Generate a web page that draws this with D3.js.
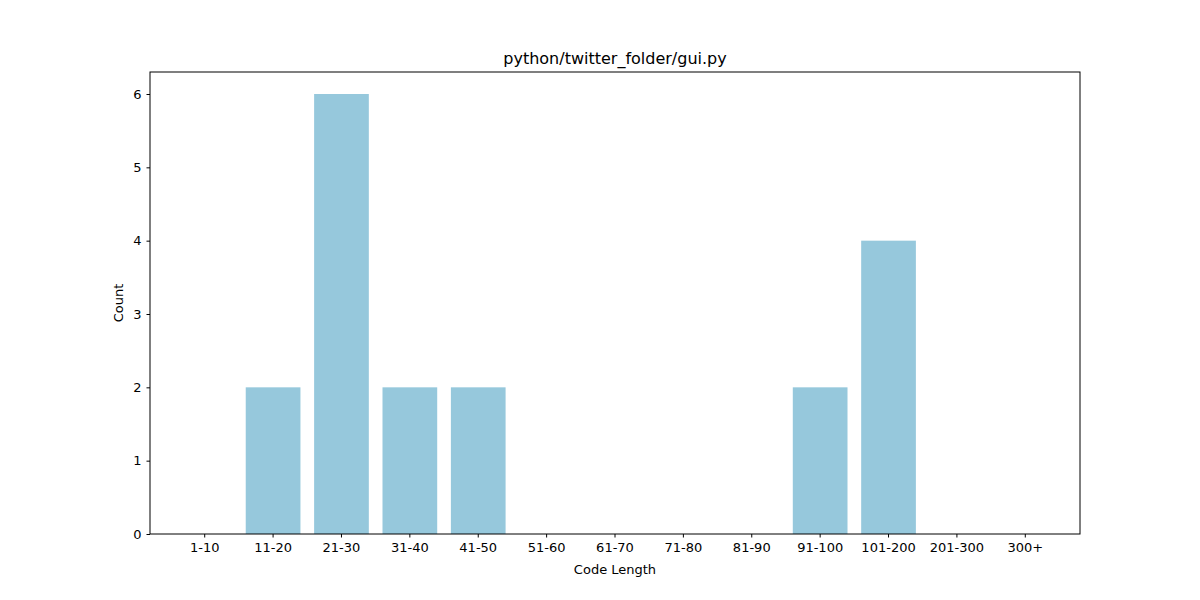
<!DOCTYPE html>
<html><head><meta charset="utf-8">
<script src="https://cdn.jsdelivr.net/npm/d3@7"></script>
<style>body{margin:0;background:#fff}text{font-family:"DejaVu Sans",sans-serif}</style>
</head><body>
<svg id="c" width="1200" height="600"></svg>
<script>
const categories = ["1-10","11-20","21-30","31-40","41-50","51-60","61-70","71-80","81-90","91-100","101-200","201-300","300+"];
const counts = [0,2,6,2,2,0,0,0,0,2,4,0,0];
const yTicks = [0,1,2,3,4,5,6];
const title = "python/twitter_folder/gui.py";

const svg = d3.select("#c");
const L=150,R=1080,T=72,B=534;
const x = d3.scaleBand().domain(categories).range([L,R]).paddingInner(0.2).paddingOuter(0.4);
const y = d3.scaleLinear().domain([0,6.3]).range([B,T]);

svg.selectAll("rect.bar").data(counts).enter().append("rect")
  .attr("x",(d,i)=>x(categories[i])).attr("width",x.bandwidth())
  .attr("y",d=>y(d)).attr("height",d=>B-y(d)).attr("fill","#96c8dc");

const xa = svg.append("g").attr("transform",`translate(0,${B})`)
  .call(d3.axisBottom(x).tickSize(3.5).tickPadding(5).tickSizeOuter(0));
const ya = svg.append("g").attr("transform",`translate(${L},0)`)
  .call(d3.axisLeft(y).tickValues(yTicks).tickFormat(d3.format("d")).tickSize(3.5).tickPadding(5).tickSizeOuter(0));
[xa,ya].forEach(a=>{a.select(".domain").remove();a.selectAll("text").attr("font-size","13px").attr("fill","#000").style("font-family","DejaVu Sans");a.selectAll("line").attr("stroke","#000");});

svg.append("rect").attr("x",L).attr("y",T).attr("width",R-L).attr("height",B-T)
  .attr("fill","none").attr("stroke","#000").attr("stroke-width",1);

svg.append("text").attr("x",(L+R)/2).attr("y",T-8).attr("text-anchor","middle").attr("font-size","16px").text(title);
svg.append("text").attr("x",(L+R)/2).attr("y",574).attr("text-anchor","middle").attr("font-size","13px").text("Code Length");
svg.append("text").attr("transform",`translate(123,${(T+B)/2}) rotate(-90)`).attr("text-anchor","middle").attr("font-size","13px").text("Count");
</script>
</body></html>
